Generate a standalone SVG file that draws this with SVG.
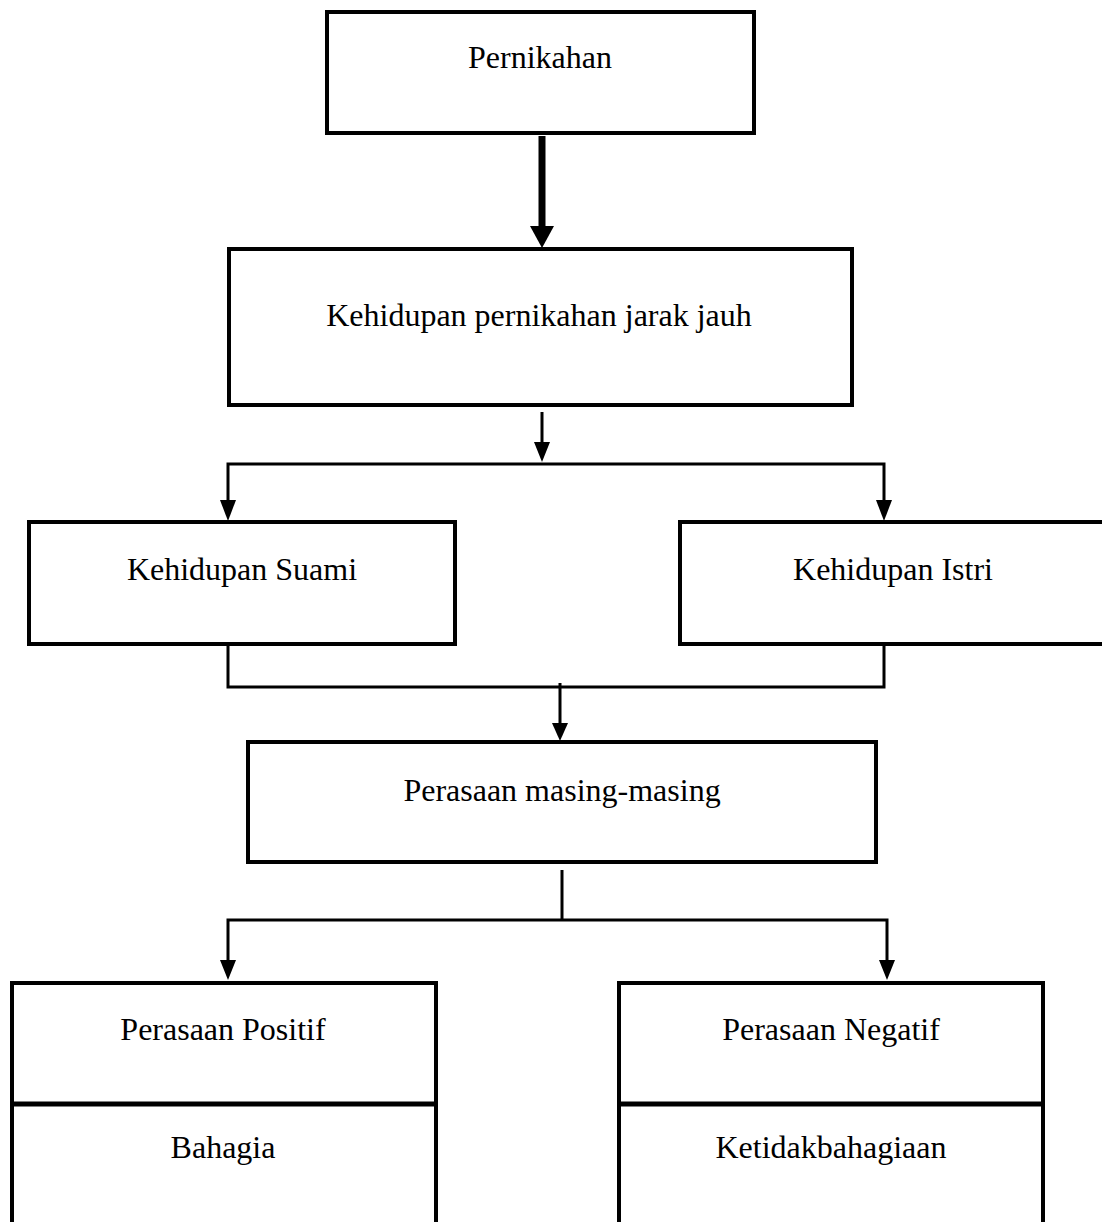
<svg xmlns="http://www.w3.org/2000/svg" width="1102" height="1222" viewBox="0 0 1102 1222">
<style>
.box{fill:#fff;stroke:#000;stroke-width:4}
.t{font-family:"Liberation Serif","Times New Roman",serif;font-size:32px;fill:#000;text-anchor:middle}
.ln{fill:none;stroke:#000;stroke-width:3}
.hd{fill:#000;stroke:none}
</style>
<rect width="1102" height="1222" fill="#fff"/>
<g id="connectors">
  <line x1="542" y1="136" x2="542" y2="228" stroke="#000" stroke-width="7"/>
  <polygon class="hd" points="530,226 554,226 542,248"/>
  <line class="ln" x1="542" y1="412" x2="542" y2="444"/>
  <polygon class="hd" points="534,442 550,442 542,462"/>
  <polyline class="ln" points="228,502 228,464 884,464 884,502"/>
  <polygon class="hd" points="220,500 236,500 228,521"/>
  <polygon class="hd" points="876,500 892,500 884,521"/>
  <polyline class="ln" points="228,645 228,687 884,687 884,645"/>
  <line class="ln" x1="560" y1="683" x2="560" y2="725"/>
  <polygon class="hd" points="552,723 568,723 560,741"/>
  <line class="ln" x1="562" y1="870" x2="562" y2="920"/>
  <polyline class="ln" points="228,962 228,920 887,920 887,962"/>
  <polygon class="hd" points="220,960 236,960 228,980"/>
  <polygon class="hd" points="879,960 895,960 887,980"/>
</g>
<g id="pernikahan">
  <rect class="box" x="327" y="12" width="427" height="121"/>
  <text class="t" x="540" y="68">Pernikahan</text>
</g>
<g id="kehidupan-pernikahan">
  <rect class="box" x="229" y="249" width="623" height="156"/>
  <text class="t" x="539" y="326">Kehidupan pernikahan jarak jauh</text>
</g>
<g id="kehidupan-suami">
  <rect class="box" x="29" y="522" width="426" height="122"/>
  <text class="t" x="242" y="580">Kehidupan Suami</text>
</g>
<g id="kehidupan-istri">
  <rect class="box" x="680" y="522" width="426" height="122"/>
  <text class="t" x="893" y="580">Kehidupan Istri</text>
</g>
<g id="perasaan-masing">
  <rect class="box" x="248" y="742" width="628" height="120"/>
  <text class="t" x="562" y="801">Perasaan masing-masing</text>
</g>
<g id="perasaan-positif">
  <rect class="box" x="12" y="983" width="424" height="260"/>
  <line x1="12" y1="1104" x2="436" y2="1104" stroke="#000" stroke-width="5"/>
  <text class="t" x="223" y="1040">Perasaan Positif</text>
  <text class="t" x="223" y="1158">Bahagia</text>
</g>
<g id="perasaan-negatif">
  <rect class="box" x="619" y="983" width="424" height="260"/>
  <line x1="619" y1="1104" x2="1043" y2="1104" stroke="#000" stroke-width="5"/>
  <text class="t" x="831" y="1040">Perasaan Negatif</text>
  <text class="t" x="831" y="1158">Ketidakbahagiaan</text>
</g>
</svg>
